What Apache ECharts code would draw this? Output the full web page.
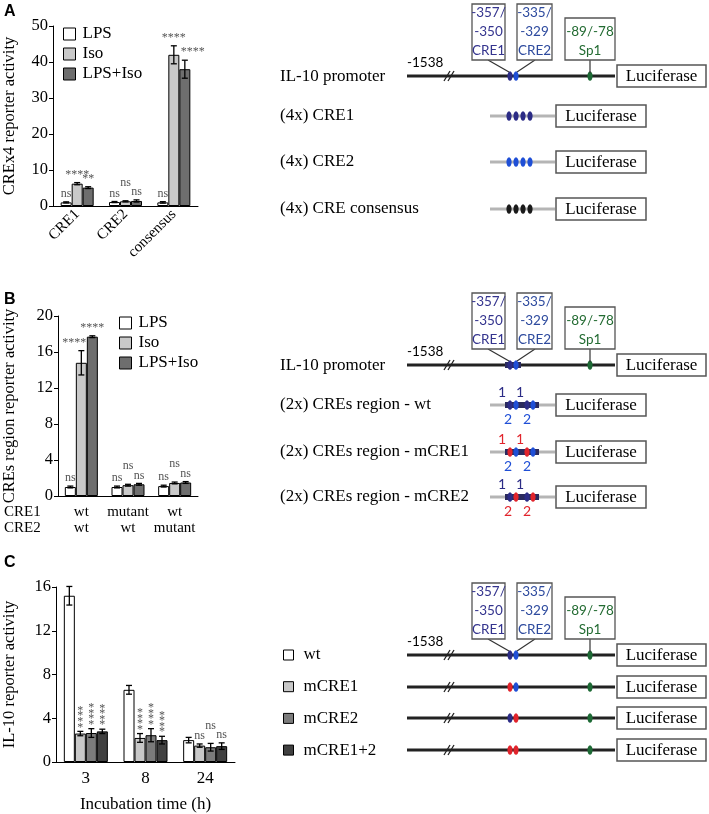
<!DOCTYPE html>
<html><head><meta charset="utf-8">
<script src="https://cdn.jsdelivr.net/npm/echarts@6/dist/echarts.min.js"></script>
<style>html,body{margin:0;padding:0;background:#fff}#c{width:709px;height:814px}</style>
</head><body><div id="c"></div>
<script>
// ---------- Panel A data ----------
const aCategories = ['CRE1', 'CRE2', 'consensus'];
const aNames = ['LPS', 'Iso', 'LPS+Iso'];
const aLPS = [1.0, 1.1, 1.0];
const aIso = [6.2, 1.3, 42.0];
const aLPSIso = [5.1, 1.4, 38.0];
const aLPSErr = [0.15, 0.15, 0.2];
const aIsoErr = [0.3, 0.15, 2.5];
const aLPSIsoErr = [0.25, 0.3, 2.5];
const aLPSSig = ['ns', 'ns', 'ns'];
const aIsoSig = ['****', 'ns', '****'];
const aLPSIsoSig = ['**', 'ns', '****'];

// ---------- Panel B data ----------
const bCre1 = ['wt', 'mutant', 'wt'];
const bCre2 = ['wt', 'wt', 'mutant'];
const bLPS = [1.0, 1.0, 1.1];
const bIso = [14.8, 1.2, 1.45];
const bLPSIso = [17.7, 1.3, 1.5];
const bLPSErr = [0.1, 0.1, 0.1];
const bIsoErr = [1.35, 0.1, 0.1];
const bLPSIsoErr = [0.1, 0.1, 0.1];
const bLPSSig = ['ns', 'ns', 'ns'];
const bIsoSig = ['****', 'ns', 'ns'];
const bLPSIsoSig = ['****', 'ns', 'ns'];

// ---------- Panel C data ----------
const cCategories = ['3', '8', '24'];
const cNames = ['wt', 'mCRE1', 'mCRE2', 'mCRE1+2'];
const cWt = [15.2, 6.6, 2.0];
const cM1 = [2.6, 2.2, 1.5];
const cM2 = [2.65, 2.45, 1.35];
const cM12 = [2.8, 2.0, 1.45];
const cWtErr = [0.85, 0.4, 0.25];
const cM1Err = [0.2, 0.4, 0.15];
const cM2Err = [0.4, 0.6, 0.35];
const cM12Err = [0.2, 0.35, 0.3];
const cWtSig = ['', '', ''];
const cM1Sig = ['****', '****', 'ns'];
const cM2Sig = ['****', '****', 'ns'];
const cM12Sig = ['****', '****', 'ns'];

const SERIF = '"Liberation Serif","Times New Roman",serif';
const SANS = 'Lato,"Noto Sans",sans-serif';
const LAB = '#555';

function valueAxis(gi, max, interval, name, gap) {
  return {type: 'value', gridIndex: gi, min: 0, max: max, interval: interval,
    name: name, nameLocation: 'middle', nameGap: gap, nameRotate: 90,
    nameTextStyle: {fontFamily: SERIF, fontSize: 16.5, color: '#000'},
    axisLine: {show: true, lineStyle: {color: '#000', width: 1}},
    axisTick: {show: true, length: 4, lineStyle: {color: '#000'}},
    splitLine: {show: false},
    axisLabel: {fontFamily: SERIF, fontSize: 16.5, color: '#000', margin: 5}};
}
function catAxis(gi, data, label, extra) {
  return Object.assign({type: 'category', gridIndex: gi, data: data,
    axisLine: {show: true, lineStyle: {color: '#000', width: 1}},
    axisTick: {show: false},
    axisLabel: Object.assign({fontFamily: SERIF, color: '#000', interval: 0}, label)}, extra || {});
}
function bars(gi, name, data, color, bw) {
  return {type: 'bar', name: name, xAxisIndex: gi, yAxisIndex: gi, data: data,
    barWidth: bw, barGap: '0%', silent: true,
    itemStyle: {color: color, borderColor: '#000', borderWidth: 1}};
}
function errSeries(gi, vals, errs, sigs, bw, vertical) {
  const n = vals.length;
  const items = [];
  for (let s = 0; s < n; s++) for (let c = 0; c < vals[s].length; c++) items.push([c, vals[s][c], errs[s][c], s]);
  return {type: 'custom', xAxisIndex: gi, yAxisIndex: gi, z: 10, silent: true, data: items,
    encode: {x: 0, y: 1},
    renderItem: function (params, api) {
      const c = api.value(0), v = api.value(1), e = api.value(2), s = api.value(3);
      const center = api.coord([c, 0])[0];
      const x = center + (s - (n - 1) / 2) * bw;
      const yTop = api.coord([c, v + e])[1], yBot = api.coord([c, v - e])[1];
      const st = {stroke: '#000', lineWidth: 1.3};
      const ch = [
        {type: 'line', shape: {x1: x, y1: yTop, x2: x, y2: yBot}, style: st},
        {type: 'line', shape: {x1: x - 3, y1: yTop, x2: x + 3, y2: yTop}, style: st},
        {type: 'line', shape: {x1: x - 3, y1: yBot, x2: x + 3, y2: yBot}, style: st}
      ];
      const lab = sigs[s][c];
      if (lab) {
        if (vertical && lab !== 'ns') {
          for (let k = 0; k < lab.length; k++) {
            ch.push({type: 'text', style: {text: '*', x: x, y: yTop - 4 - k * 5.6, font: '12px ' + SERIF,
              fill: LAB, align: 'center', verticalAlign: 'middle', textAlign: 'center', textVerticalAlign: 'middle'}});
          }
        } else {
          const prev = s > 0 ? sigs[s - 1][c] : '';
          const next = s < n - 1 ? sigs[s + 1][c] : '';
          const raise = (lab === 'ns' && prev === 'ns' && next === 'ns') ? 10 : 0;
          // move an asterisk label sideways when a neighbouring bar is much taller
          let dx = 0;
          if (lab !== 'ns') {
            if (s > 0) {
              const yl = api.coord([c, vals[s - 1][c] + errs[s - 1][c]])[1];
              if (yTop - yl > 10) dx = 8;
            }
            if (s < n - 1) {
              const yr = api.coord([c, vals[s + 1][c] + errs[s + 1][c]])[1];
              if (yTop - yr > 10) dx = -7;
            }
          }
          ch.push({type: 'text', style: {text: lab, x: x + dx, y: yTop - 2 - raise, font: '12px ' + SERIF,
            fill: LAB, align: 'center', verticalAlign: 'bottom', textAlign: 'center', textVerticalAlign: 'bottom'}});
        }
      }
      return {type: 'group', children: ch};
    }};
}

// ---------- diagram helpers ----------
const NAVY = '#2c2c86', BLUE = '#1f4fd6', GREEN = '#1d6a35', RED = '#e1242c';
const G = [];
function T(x, y, s, font, fill, align, va) {
  G.push({type: 'text', silent: true, style: {text: s, x: x, y: y, font: font, fill: fill || '#000',
    align: align || 'left', verticalAlign: va || 'middle', textAlign: align || 'left', textVerticalAlign: va || 'middle'}});
}
function L(x1, y1, x2, y2, stroke, w) {
  G.push({type: 'line', silent: true, shape: {x1: x1, y1: y1, x2: x2, y2: y2}, style: {stroke: stroke, lineWidth: w}});
}
function R(x, y, w, h, fill, stroke, lw) {
  G.push({type: 'rect', silent: true, shape: {x: x, y: y, width: w, height: h},
    style: {fill: fill, stroke: stroke || null, lineWidth: lw || 0}});
}
function E(cx, cy, fill) {
  G.push({type: 'ellipse', silent: true, shape: {cx: cx, cy: cy, rx: 2.6, ry: 4.8}, style: {fill: fill}});
}
function luc(x, y, w) {
  R(x, y - 11, w, 22, '#fff', '#555', 1.5);
  T(x + w / 2, y + 1, 'Luciferase', '17px ' + SERIF, '#000', 'center');
}
function promoter(y, c1, c2, boxes, label1538, dark) {
  L(407, y, 615, y, '#222', 3);
  L(444, y + 5, 450, y - 5, '#222', 1.3);
  L(448, y + 5, 454, y - 5, '#222', 1.3);
  if (dark) R(505, y - 3, 16, 6, '#2a2a5e');
  E(510, y, c1); E(516, y, c2); E(590, y, GREEN);
  luc(617, y, 89);
  if (label1538) T(407, y - 13, '-1538', '13.5px ' + SANS, '#000', 'left');
  if (boxes) {
    const f = '13.5px ' + SANS;
    L(488, y - 16, 509, y - 4, '#333', 1.2);
    L(535, y - 16, 517, y - 4, '#333', 1.2);
    L(590, y - 16, 590, y - 3, '#333', 1.2);
    R(472, y - 72, 33, 56, '#fff', '#555', 1.3);
    T(488.5, y - 63, '-357/', f, '#34348e', 'center');
    T(488.5, y - 44, '-350', f, '#34348e', 'center');
    T(488.5, y - 25, 'CRE1', f, '#34348e', 'center');
    R(517, y - 72, 35, 56, '#fff', '#555', 1.3);
    T(534.5, y - 63, '-335/', f, '#2d4a9e', 'center');
    T(534.5, y - 44, '-329', f, '#2d4a9e', 'center');
    T(534.5, y - 25, 'CRE2', f, '#2d4a9e', 'center');
    R(565, y - 58, 50, 42, '#fff', '#555', 1.3);
    T(590, y - 44, '-89/-78', f, '#236b32', 'center');
    T(590, y - 25, 'Sp1', f, '#236b32', 'center');
  }
}
function cassette4(y, color) {
  L(490, y, 555, y, '#b5b5b5', 3);
  for (let i = 0; i < 4; i++) E(509 + 7 * i, y, color);
  luc(556, y, 90);
}
function cresRow(y, c1, c2, n1, n2) {
  L(490, y, 555, y, '#b5b5b5', 3);
  R(505, y - 3, 34, 6, '#2a2a5e');
  E(510, y, c1); E(516, y, c2); E(527, y, c1); E(533, y, c2);
  const f = '14px ' + SANS;
  T(502, y - 13, '1', f, n1, 'center'); T(520, y - 13, '1', f, n1, 'center');
  T(508, y + 14, '2', f, n2, 'center'); T(527, y + 14, '2', f, n2, 'center');
  luc(556, y, 90);
}
const RS = '17px ' + SERIF;
// Panel letters
T(4, 12, 'A', 'bold 16px "Liberation Sans",Arial,sans-serif');
T(4, 300, 'B', 'bold 16px "Liberation Sans",Arial,sans-serif');
T(4, 563, 'C', 'bold 16px "Liberation Sans",Arial,sans-serif');
// B row names
T(4, 512, 'CRE1', '15px ' + SERIF);
T(4, 528, 'CRE2', '15px ' + SERIF);
// Diagram A
T(280, 77, 'IL-10 promoter', RS); promoter(76, NAVY, BLUE, true, true, false);
T(280, 116, '(4x) CRE1', RS); cassette4(116, NAVY);
T(280, 162, '(4x) CRE2', RS); cassette4(162, BLUE);
T(280, 209, '(4x) CRE consensus', RS); cassette4(209, '#1a1a1a');
// Diagram B
T(280, 366, 'IL-10 promoter', RS); promoter(365, NAVY, BLUE, true, true, true);
T(280, 405, '(2x) CREs region - wt', RS); cresRow(405, NAVY, BLUE, NAVY, BLUE);
T(280, 452, '(2x) CREs region - mCRE1', RS); cresRow(452, RED, BLUE, RED, BLUE);
T(280, 497, '(2x) CREs region - mCRE2', RS); cresRow(497, NAVY, RED, NAVY, RED);
// Diagram C
promoter(655, NAVY, BLUE, true, true, false);
promoter(687, RED, BLUE, false, false, false);
promoter(718, NAVY, RED, false, false, false);
promoter(750, RED, RED, false, false, false);

const chart = echarts.init(document.getElementById('c'), null, {renderer: 'canvas'});
const legendBase = {orient: 'vertical', icon: 'rect', padding: 0, itemWidth: 12, itemHeight: 12, itemGap: 3,
  itemStyle: {borderColor: '#000', borderWidth: 1},
  textStyle: {fontFamily: SERIF, fontSize: 17, color: '#000', padding: [0, 0, 0, 2]}};
chart.setOption({
  animation: false,
  backgroundColor: '#fff',
  grid: [
    {left: 52, top: 26, width: 146, height: 180},
    {left: 57, top: 316, width: 141, height: 180},
    {left: 55, top: 587, width: 180, height: 180}
  ],
  xAxis: [
    catAxis(0, aCategories, {rotate: 45, fontSize: 15, margin: 6}),
    catAxis(1, bCre1.map((a, i) => a + '\n' + bCre2[i]), {fontSize: 15, lineHeight: 16, margin: 8}),
    catAxis(2, cCategories, {fontSize: 17, margin: 8}, {name: 'Incubation time (h)', nameLocation: 'middle', nameGap: 34,
      nameTextStyle: {fontFamily: SERIF, fontSize: 17, color: '#000'}})
  ],
  yAxis: [
    valueAxis(0, 50, 10, 'CREx4 reporter activity', 35),
    valueAxis(1, 20, 4, 'CREs region reporter activity', 40),
    valueAxis(2, 16, 4, 'IL-10 reporter activity', 38)
  ],
  legend: [
    Object.assign({}, legendBase, {left: 63, top: 25.5, data: aNames}),
    Object.assign({}, legendBase, {left: 119, top: 314.5, data: aNames}),
    Object.assign({}, legendBase, {left: 283, top: 646.5, itemWidth: 10, itemHeight: 10, itemGap: 14.7,
      textStyle: {fontFamily: SERIF, fontSize: 17, color: '#000', padding: [0, 0, 0, 5]}, data: cNames})
  ],
  series: [
    bars(0, 'LPS', aLPS, '#ffffff', 11),
    bars(0, 'Iso', aIso, '#c9c9c9', 11),
    bars(0, 'LPS+Iso', aLPSIso, '#6e6e6e', 11),
    errSeries(0, [aLPS, aIso, aLPSIso], [aLPSErr, aIsoErr, aLPSIsoErr], [aLPSSig, aIsoSig, aLPSIsoSig], 11, false),
    bars(1, 'LPS', bLPS, '#ffffff', 11),
    bars(1, 'Iso', bIso, '#c9c9c9', 11),
    bars(1, 'LPS+Iso', bLPSIso, '#6e6e6e', 11),
    errSeries(1, [bLPS, bIso, bLPSIso], [bLPSErr, bIsoErr, bLPSIsoErr], [bLPSSig, bIsoSig, bLPSIsoSig], 11, false),
    bars(2, 'wt', cWt, '#ffffff', 11),
    bars(2, 'mCRE1', cM1, '#c8c8c8', 11),
    bars(2, 'mCRE2', cM2, '#7b7b7b', 11),
    bars(2, 'mCRE1+2', cM12, '#404040', 11),
    errSeries(2, [cWt, cM1, cM2, cM12], [cWtErr, cM1Err, cM2Err, cM12Err], [cWtSig, cM1Sig, cM2Sig, cM12Sig], 11, true)
  ],
  graphic: G
});
</script></body></html>
